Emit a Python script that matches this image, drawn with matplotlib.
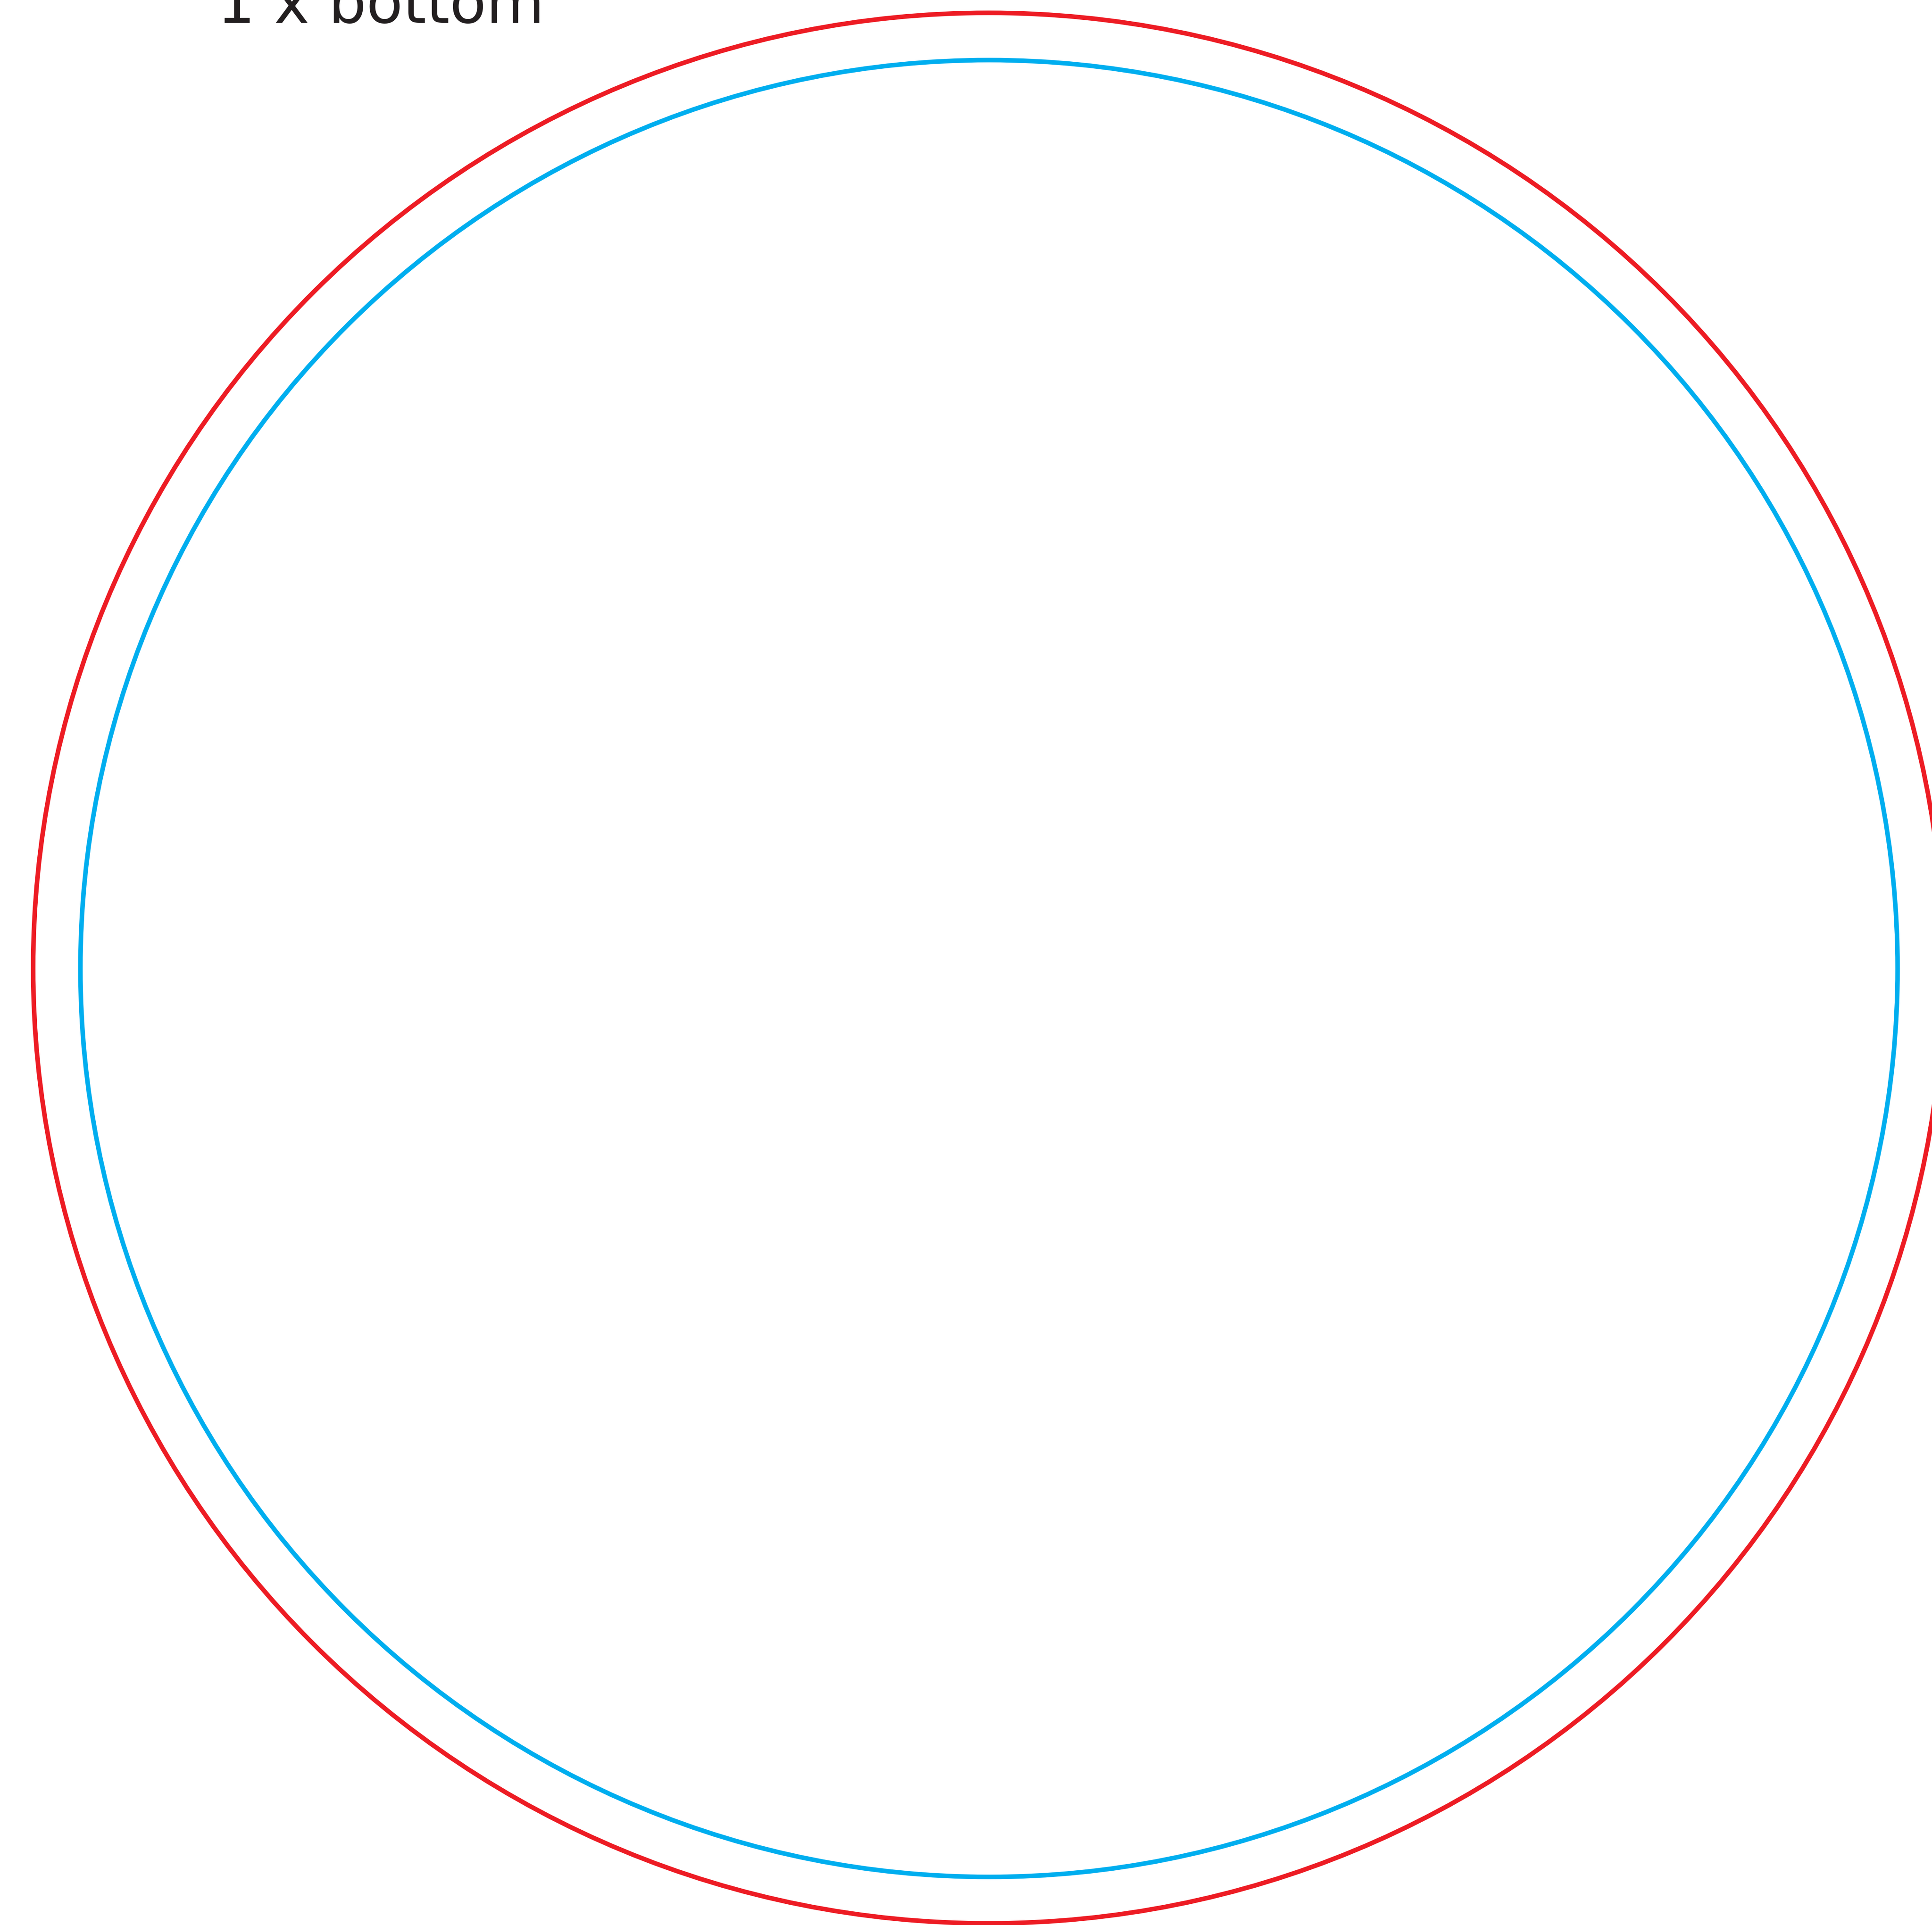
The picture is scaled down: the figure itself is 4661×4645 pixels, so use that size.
import matplotlib
matplotlib.use('Agg')
import matplotlib.pyplot as plt
from matplotlib.patches import Circle

# canvas in pixels (1 data unit = 1 px)
width_px, height_px = 4661, 4645
dpi = 100

# the two rings: outer (red) and inner (blue)
ring_names = ['outer', 'inner']
ring_cx = [2385, 2386]
ring_cy = [2336, 2337]
ring_radius = [2305, 2192]
ring_colors = ['#ED1C24', '#00AEEF']

label_text = '1 x bottom'

fig = plt.figure(figsize=(width_px / dpi, height_px / dpi), dpi=dpi)
ax = fig.add_axes([0, 0, 1, 1])
ax.set_xlim(0, width_px)
ax.set_ylim(height_px, 0)
ax.axis('off')

lw = 11 * 72 / dpi
for name, cx, cy, r, c in zip(ring_names, ring_cx, ring_cy, ring_radius, ring_colors):
    ax.add_patch(Circle((cx, cy), r, fill=False, edgecolor=c, linewidth=lw))

ax.text(524, 55, label_text, fontsize=144 * 72 / dpi, color='#231F20',
        ha='left', va='baseline', family='DejaVu Sans')

fig.savefig('out.png', dpi=dpi, facecolor='white')
